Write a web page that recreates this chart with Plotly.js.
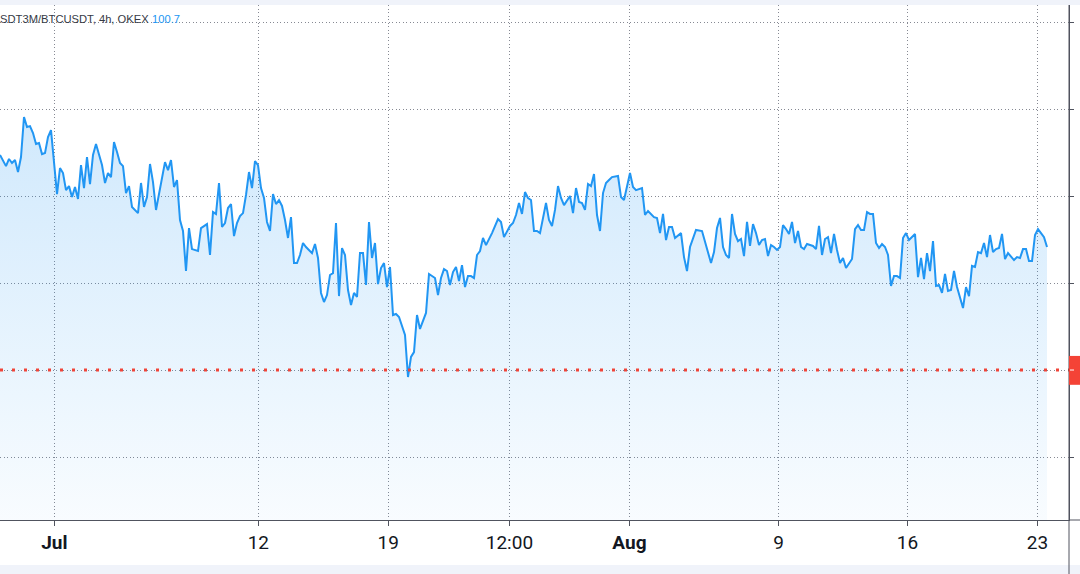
<!DOCTYPE html>
<html>
<head>
<meta charset="utf-8">
<script src="https://cdn.plot.ly/plotly-3.0.1.min.js"></script>
<style>
html,body{margin:0;padding:0;background:#ffffff;}
#chart{width:1080px;height:574px;}
</style>
</head>
<body>
<div id="chart"></div>
<script>
// 4h bar index of each reading
const bars = [
  0,2,3,4,5,6,7,8,9,10, 11,12,13,14,15,16,17,18,19,20,
  21,22,23,24,25,26,27,28,29,30, 31,32,34,35,36,37,38,39,40,41,
  42,43,44,46,47,48,49,50,51,52, 53,55,56,57,58,59,60,61,62,63,
  64,66,67,69,70,71,72,
  73,74,75,76,77,78,79,80,81,82, 83,84,85,86,87,88,89,90,91,92,
  93,94,95,96,97,98,99,100,101,102,
  104,105,106,107,108,109,110,111,112,113, 114,115,116,117,118,119,120,121,122,123,
  124,125,126,127,128,129,130,131,132,133,
  135,136,137,138,139,140,
  142,143,145,146,147,148,149,150,151,152, 153,154,155,156,157,158,159,160,161,162,
  164,166,167,168,170,171,172,173,174,175, 176,177,178,179,180,182,183,184,185,186,
  187,188,190,191,192,193,194,195,196,197, 198,199,200,201,202,203,204,206,207,208,
  210,211,212,214,215,216,218,219,220,221, 222,223,224,225,227,228,229,230,232,
  234,235,237,238,239,240,241,242,243,244, 245,246,247,248,249,250,251,252,253,254,
  255,256,257,258,259,260,261,262,263,264, 265,266,267,268,269,271,272,273,274,275,
  276,277,278,279,280,281,282,284,285,286, 287,288,289,290,291,292,293,294,295,296,
  297,298,299,300,301,302,303,305,306,307, 308,309,310,311,312,313,314,315,316,317,
  318,319,320,321,322,323,324,325,326,327, 328,329,330,331,332,333,334,335,336,338,
  339,340,341,342,343,344,345,346,347,348, 349
];
// USDT3M/BTCUSDT ratio readings
const values = [
  101.236,101.172,101.213,101.190,101.207,101.138,101.224,101.454,101.397,101.402, 101.362,101.299,101.305,101.241,101.247,101.339,101.379,101.195,101.011,101.161,
  101.132,101.034,101.057,100.994,101.052,100.983,101.178,101.046,101.224,101.069, 101.236,101.299,101.178,101.075,101.132,101.109,101.310,101.253,101.190,101.172,
  101.017,101.057,100.937,100.902,101.075,100.937,100.994,101.184,101.080,100.920, 101.017,101.195,101.149,101.207,101.052,101.092,100.862,100.799,100.569,100.816,
  100.695,100.684,100.816,100.839,100.661,100.908,100.897,
  101.075,100.822,100.845,100.931,100.954,100.770,100.845,100.885,100.902,101.006, 101.138,101.046,101.201,101.178,101.046,100.989,100.851,100.799,101.011,100.954,
  100.977,100.943,100.862,100.759,100.879,100.615,100.615,100.661,100.730,100.707,
  100.672,100.724,100.644,100.443,100.391,100.431,100.546,100.557,100.845,100.425, 100.701,100.661,100.460,100.374,100.443,100.420,100.672,100.672,100.489,100.851,
  100.644,100.730,100.494,100.586,100.615,100.477,100.592,100.316,100.322,100.305,
  100.201,99.960,100.075,100.103,100.316,100.236,
  100.328,100.552,100.529,100.431,100.529,100.580,100.569,100.489,100.563,100.592, 100.511,100.603,100.477,100.540,100.540,100.529,100.661,100.684,100.759,100.718,
  100.787,100.868,100.851,100.764,100.828,100.845,100.891,100.960,100.897,101.023, 100.989,100.977,100.799,100.799,100.787,100.960,100.862,100.828,100.920,101.057,
  100.989,100.948,101.000,100.902,101.046,100.966,100.960,100.920,101.069,101.057, 101.126,100.891,100.799,101.017,101.075,101.092,101.109,101.115,100.994,100.977,
  101.132,101.052,101.034,101.046,100.891,100.914,100.879,100.874,100.787,100.897, 100.747,100.822,100.822,100.759,100.787,100.649,100.569,100.707,100.805,
  100.799,100.736,100.615,100.678,100.816,100.874,100.707,100.661,100.644,100.897, 100.782,100.741,100.753,100.655,100.851,100.713,100.839,100.787,100.718,100.747,
  100.753,100.655,100.718,100.707,100.690,100.707,100.833,100.810,100.782,100.851, 100.730,100.799,100.707,100.695,100.724,100.713,100.695,100.828,100.661,100.753,
  100.764,100.672,100.782,100.690,100.615,100.644,100.586,100.638,100.810,100.833, 100.805,100.805,100.908,100.897,100.897,100.730,100.701,100.724,100.707,100.661,
  100.483,100.540,100.540,100.529,100.759,100.787,100.747,100.782,100.534,100.644, 100.523,100.672,100.569,100.741,100.483,100.489,100.443,100.552,100.454,100.460,
  100.569,100.477,100.414,100.356,100.477,100.425,100.598,100.592,100.678,100.672, 100.730,100.649,100.776,100.678,100.695,100.701,100.782,100.638,100.672,100.632,
  100.649,100.644,100.695,100.695,100.626,100.626,100.776,100.810,100.787,100.764, 100.707
];
const tickBars = [18.1, 86.1, 129.4, 169.8, 209.8, 259.5, 302.5, 345.8];
const tickLabels = ['<b>Jul</b>', '12', '19', '12:00', '<b>Aug</b>', '9', '16', '23'];
const gridValues = [99.5, 100.0, 100.5, 101.0, 101.5, 102.0];
const markerLevel = 100.0;
const symbolLabel = 'USDT3M/BTCUSDT, 4h, OKEX';
const lastValueLabel = '100.7';

const W = 1080, H = 574;
const M = {l: 0, r: 11, t: 5, b: 54};
const plotW = W - M.l - M.r, plotH = H - M.t - M.b;
const px2paperX = p => (p - M.l) / plotW;
const px2paperY = p => (H - M.b - p) / plotH;

const yMin = 99.138, yMax = 102.098;
const xMax = 356.33;

const trace = {
  x: bars, y: values,
  type: 'scatter', mode: 'lines',
  line: {color: '#2196f3', width: 2},
  fill: 'tozeroy',
  fillgradient: {
    type: 'vertical', start: yMin, stop: Math.max(...values),
    colorscale: [[0, 'rgba(33,150,243,0.03)'], [1, 'rgba(33,150,243,0.21)']]
  },
  hoverinfo: 'skip'
};

const axisColor = '#50535e';
const gridColor = '#868993';

const layout = {
  width: W, height: H, margin: M,
  paper_bgcolor: '#ffffff', plot_bgcolor: '#ffffff',
  showlegend: false,
  xaxis: {
    range: [0, xMax], tickmode: 'array', tickvals: tickBars, ticktext: tickLabels,
    showgrid: true, gridcolor: gridColor, griddash: '1px,2.5px', gridwidth: 1,
    showline: true, linecolor: axisColor, linewidth: 1,
    ticks: 'outside', ticklen: 5, tickcolor: axisColor,
    tickfont: {family: 'Roboto, Liberation Sans, sans-serif', size: 19, color: '#131722'},
    zeroline: false, fixedrange: true
  },
  yaxis: {
    range: [yMin, yMax], side: 'right', tickmode: 'array', tickvals: gridValues,
    showticklabels: false, ticks: 'outside', ticklen: 4, tickcolor: axisColor,
    showline: true, linecolor: axisColor, linewidth: 1,
    showgrid: true, gridcolor: gridColor, griddash: '1px,2.5px', gridwidth: 1,
    zeroline: false, fixedrange: true
  },
  shapes: [
    {type: 'rect', xref: 'paper', yref: 'paper', x0: -0.01, x1: 1.02, y0: 1, y1: 1.03,
     fillcolor: '#f0f3fa', line: {width: 0}, layer: 'above'},
    {type: 'rect', xref: 'paper', yref: 'paper', x0: -0.01, x1: 1.02, y0: px2paperY(565), y1: px2paperY(580),
     fillcolor: '#f0f3fa', line: {width: 0}, layer: 'above'},
    {type: 'line', xref: 'paper', yref: 'y', x0: 0, x1: 1, y0: markerLevel, y1: markerLevel,
     line: {color: '#f04438', width: 3, dash: '3px,9px'}, layer: 'above'},
    {type: 'line', xref: 'paper', yref: 'paper', x0: 1, x1: 1, y0: px2paperY(580), y1: 1,
     line: {color: axisColor, width: 1}, layer: 'above'},
    {type: 'line', xref: 'paper', yref: 'paper', x0: 1, x1: 1.02, y0: 0, y1: 0,
     line: {color: axisColor, width: 1}, layer: 'above'},
    {type: 'rect', xref: 'paper', yref: 'y', x0: 1, x1: 1.02, y0: markerLevel - 0.085, y1: markerLevel + 0.081,
     fillcolor: '#f44336', line: {width: 0}, layer: 'above'},
    {type: 'line', xref: 'paper', yref: 'y', x0: px2paperX(1070), x1: px2paperX(1074), y0: markerLevel, y1: markerLevel,
     line: {color: '#ffffff', width: 1}, layer: 'above'}
  ],
  annotations: [
    {text: symbolLabel, xref: 'paper', yref: 'paper', x: px2paperX(-8.5), y: px2paperY(19),
     xanchor: 'left', yanchor: 'middle', showarrow: false, borderpad: 0, borderwidth: 0,
     font: {family: 'Liberation Sans, Arial, sans-serif', size: 11.2, color: '#363a45'}},
    {text: lastValueLabel, xref: 'paper', yref: 'paper', x: px2paperX(151.5), y: px2paperY(19),
     xanchor: 'left', yanchor: 'middle', showarrow: false, borderpad: 0, borderwidth: 0,
     font: {family: 'Liberation Sans, Arial, sans-serif', size: 11.2, color: '#2196f3'}}
  ]
};

Plotly.newPlot('chart', [trace], layout, {staticPlot: true, displayModeBar: false});
</script>
</body>
</html>
